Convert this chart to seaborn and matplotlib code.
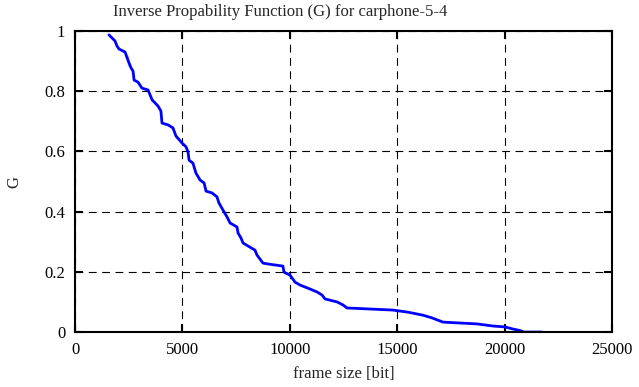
import numpy as np
import pandas as pd
import matplotlib
matplotlib.use("Agg")
import matplotlib.pyplot as plt
import seaborn as sns

# curve
frame_size = [1580, 1860, 1955, 2050, 2330, 2470, 2470, 2610, 2700, 2750, 2930,
              3120, 3400, 3590, 3860, 4000, 4050, 4330, 4560, 4700, 4980, 5170,
              5260, 5310, 5490, 5630, 5820, 6010, 6100, 6380, 6610, 6700, 6890,
              7080, 7220, 7540, 7590, 7730, 7820, 8050, 8380, 8470, 8750, 8990,
              9680, 9730, 10010, 10240, 10480, 10940, 11270, 11500, 11640, 12200,
              12480, 12660, 13270, 14800, 15500, 16200, 16620, 17130, 17920,
              18720, 19460, 20020, 20390, 20720, 20900, 21750]
G = [0.987, 0.967, 0.950, 0.940, 0.930, 0.920, 0.884, 0.877, 0.867, 0.837, 0.830,
     0.810, 0.804, 0.771, 0.751, 0.734, 0.694, 0.688, 0.678, 0.651, 0.628, 0.615,
     0.598, 0.571, 0.561, 0.528, 0.505, 0.495, 0.468, 0.462, 0.449, 0.429, 0.405,
     0.382, 0.362, 0.349, 0.329, 0.312, 0.296, 0.286, 0.272, 0.256, 0.229, 0.226,
     0.219, 0.199, 0.189, 0.166, 0.156, 0.143, 0.133, 0.123, 0.110, 0.100,
     0.090, 0.080, 0.078, 0.073, 0.066, 0.056, 0.047, 0.033, 0.030,
     0.027, 0.020, 0.017, 0.010, 0.005, 0.0, 0.0]

x_ticks = [0, 5000, 10000, 15000, 20000, 25000]
y_ticks = [0, 0.2, 0.4, 0.6, 0.8, 1]
y_labels = ["0", "0.2", "0.4", "0.6", "0.8", "1"]

sns.set_style("ticks")
plt.rcParams['font.family'] = ['Liberation Serif', 'DejaVu Serif']

df = pd.DataFrame({'frame size': frame_size, 'G': G})

fig = plt.figure(figsize=(6.39, 3.87), dpi=100)
ax = fig.add_axes([0.1174, 0.142, 0.8403, 0.778])

sns.lineplot(data=df, x='frame size', y='G', sort=False, color='#0000ff',
             linewidth=2, ax=ax)

ax.set_xlim(0, 25000)
ax.set_ylim(0, 1)
ax.set_xticks(x_ticks)
ax.set_xticklabels([str(t) for t in x_ticks])
ax.set_yticks(y_ticks)
ax.set_yticklabels(y_labels)
ax.grid(True, color='black', linestyle=(0, (7, 5)), linewidth=0.8)
ax.set_axisbelow(True)

for s in ax.spines.values():
    s.set_visible(True)
    s.set_linewidth(1.5)
    s.set_color('black')
ax.tick_params(direction='in', length=6, width=1.5, top=True, right=True,
               labelsize=12, colors='black', pad=7)

ax.set_xlabel('frame size [bit]', fontsize=12, labelpad=6)
ax.set_ylabel('G', fontsize=12, labelpad=16)
ax.set_title('Inverse Propability Function (G) for carphone-5-4', fontsize=12,
             x=0.382, pad=11)

fig.savefig('out.png', dpi=100)
